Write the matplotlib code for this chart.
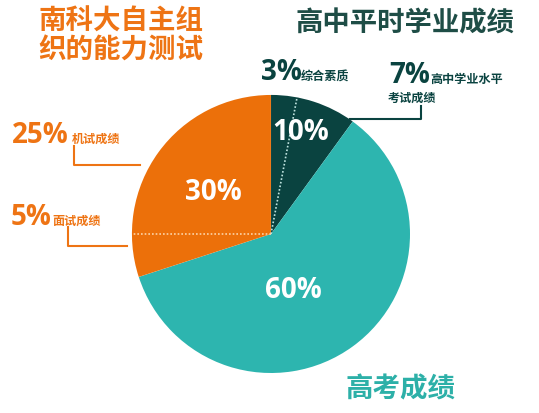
import matplotlib
matplotlib.use('Agg')
import matplotlib.pyplot as plt
import numpy as np

plt.rcParams['font.family'] = ['Noto Sans CJK SC', 'DejaVu Sans']

# ---- data ----
segments = ['高中平时学业成绩', '高考成绩', '南科大自主组织的能力测试']
pingshi_parts = [3, 7]
pingshi_names = ['综合素质', '高中学业水平', '考试成绩']
gaokao_share = 60
zizhu_parts = [5, 25]
zizhu_names = ['面试成绩', '机试成绩']
shares = [sum(pingshi_parts), gaokao_share, sum(zizhu_parts)]
total = sum(shares)

# ---- style ----
ORANGE = '#EC700A'
TEAL = '#2DB5AF'
DARK = '#0A4340'
TITLE_DARK = '#1E4D46'
TEAL_TXT = '#2DB0A8'
ORANGE_TXT = '#EE7414'
NUMFONT = ['Open Sans', 'Noto Sans CJK SC', 'DejaVu Sans']

W, H = 539, 414
fig = plt.figure(figsize=(W / 100, H / 100), dpi=100)
ax = fig.add_axes([0, 0, 1, 1])


def Y(y):
    return H - y


cx, cy, R = 271, Y(235), 139
wedges, _ = ax.pie(shares, colors=[DARK, TEAL, ORANGE], startangle=90,
                   counterclock=False, center=(cx, cy), radius=R,
                   explode=[0.075, 0, 0.075], wedgeprops=dict(linewidth=0))
ax.set_xlim(0, W)
ax.set_ylim(0, H)
ax.set_aspect('equal')
ax.axis('off')

# dotted separators for sub-parts
def sep(wedge, frac_from_top, color):
    a = np.deg2rad(90 - 360 * frac_from_top)
    c = wedge.center
    ax.plot([c[0], c[0] + R * np.cos(a)], [c[1], c[1] + R * np.sin(a)],
            ls=(0, (1, 1.2)), color=color, lw=1.2)

sep(wedges[0], pingshi_parts[0] / total, '#BFE3DF')
sep(wedges[2], (shares[0] + shares[1] + zizhu_parts[0]) / total, '#FBD3A8')

# inner percentages
def pct(v):
    return f'{v}%'

inner = dict(color='white', fontsize=20, fontweight='bold', ha='center',
             va='center', family=NUMFONT)
ax.text(301, Y(133), pct(shares[0]), **inner)
ax.text(293, Y(291), pct(shares[1]), **inner)
ax.text(213, Y(192), pct(shares[2]), **inner)

# titles
ax.text(38, Y(22), segments[2][:6], color=ORANGE_TXT, fontsize=19.8, fontweight='bold',
        ha='left', va='center')
ax.text(38, Y(51), segments[2][6:], color=ORANGE_TXT, fontsize=19.8, fontweight='bold',
        ha='left', va='center')
ax.text(295, Y(23), segments[0], color=TITLE_DARK, fontsize=19.7, fontweight='bold',
        ha='left', va='center')
ax.text(345, Y(389), segments[1], color=TEAL_TXT, fontsize=19.8, fontweight='bold',
        ha='left', va='center')

# sub labels
big = 20
small = 8.7
bigkw = dict(fontsize=big, fontweight='bold', ha='left', va='baseline', family=NUMFONT)
smallkw = dict(fontsize=small, fontweight='bold', ha='left', va='baseline')

ax.text(261, Y(80), pct(pingshi_parts[0]), color=DARK, **bigkw)
ax.text(301, Y(80), pingshi_names[0], color=DARK, **smallkw)

ax.text(389, Y(83), pct(pingshi_parts[1]), color=DARK, **bigkw)
ax.text(430, Y(83), pingshi_names[1], color=DARK, **smallkw)
ax.text(388, Y(102), pingshi_names[2], color=DARK, **smallkw)
ax.plot([350, 421, 421], [Y(120), Y(120), Y(107)], color=DARK, lw=1.5)

ax.text(12, Y(143), pct(zizhu_parts[1]), color=ORANGE_TXT, **bigkw)
ax.text(72, Y(143), zizhu_names[1], color=ORANGE_TXT, **smallkw)
ax.plot([74, 74, 140], [Y(147), Y(166), Y(166)], color=ORANGE_TXT, lw=1.5)

ax.text(11, Y(225), pct(zizhu_parts[0]), color=ORANGE_TXT, **bigkw)
ax.text(52, Y(225), zizhu_names[0], color=ORANGE_TXT, **smallkw)
ax.plot([68, 68, 127], [Y(228), Y(247), Y(247)], color=ORANGE_TXT, lw=1.5)

fig.savefig('out.png', dpi=100, facecolor='white')
